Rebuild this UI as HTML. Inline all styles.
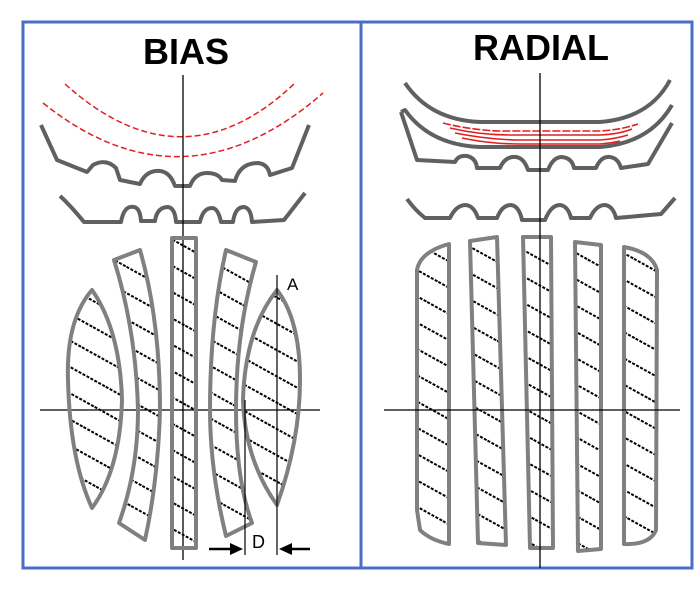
<!DOCTYPE html>
<html><head><style>
html,body{margin:0;padding:0;background:#fff;}
svg{display:block;}
text{font-family:"Liberation Sans",sans-serif;}
</style></head><body>
<svg width="700" height="592" viewBox="0 0 700 592" xmlns="http://www.w3.org/2000/svg">
<defs>
<pattern id="h" patternUnits="userSpaceOnUse" width="40" height="23" patternTransform="rotate(29)">
<line x1="0" y1="11" x2="40" y2="11" stroke="#000" stroke-width="2" stroke-dasharray="3 1.5"/>
</pattern>
</defs>
<rect x="0" y="0" width="700" height="592" fill="#fff"/>
<rect x="23" y="22" width="338" height="546" fill="none" stroke="#4a6fc4" stroke-width="3"/>
<rect x="361" y="22" width="331" height="546" fill="none" stroke="#4a6fc4" stroke-width="3"/>
<text x="186" y="64" font-size="36" font-weight="bold" text-anchor="middle">BIAS</text>
<text x="541" y="60" font-size="36" font-weight="bold" text-anchor="middle">RADIAL</text>

<g fill="none" stroke="#e02020" stroke-width="1.5" stroke-dasharray="6 3">
<path d="M65 84 Q183 190 295 83"/>
<path d="M43 103 Q183 215 323 93"/>
</g>
<g fill="none" stroke="#606060" stroke-width="4" stroke-linejoin="round">
<path d="M41 125 L57 160 L87 172 L93 165 Q106 158 116 168 L120 180 L140 184 Q146 170 160 171 Q170 172 175 186 L190 186 Q195 173 207 173 Q218 173 222 180 L235 181 Q240 163 258 163 Q268 164 270 175 L292 168 L309 125"/>
<path d="M60 196 Q70 205 84 222 L121 222 Q124 205 134 207 Q140 208 141 221 L155 221 Q157 207 168 207 Q175 208 176 222 L200 222 Q203 208 212 208 Q218 208 221 222 L233 222 Q235 207 244 207 Q251 208 252 222 L284 220 L305 193"/>
</g>
<line x1="183" y1="75" x2="183" y2="560" stroke="#000" stroke-width="1.3"/>
<line x1="40" y1="410" x2="320" y2="410" stroke="#000" stroke-width="1.3"/>

<g stroke="#808080" stroke-width="4" fill="url(#h)" stroke-linejoin="round">
<path d="M92 290 Q66 320 68 380 Q70 460 92 508 Q120 470 122 400 Q120 330 92 290 Z"/>
<path d="M114 260 L140 250 Q160 320 160 410 Q158 480 145 540 L119 523 Q138 470 138 410 Q136 330 114 260 Z"/>
<rect x="172" y="238" width="24" height="310"/>
<path d="M226 250 L256 262 Q236 330 236 410 Q236 480 252 523 L226 536 Q210 470 210 410 Q210 320 226 250 Z"/>
<path d="M277 290 Q300 320 300 380 Q300 440 277 505 Q245 460 243 400 Q245 330 277 290 Z"/>
</g>
<line x1="277" y1="275" x2="277" y2="555" stroke="#000" stroke-width="1.2"/>
<line x1="245" y1="400" x2="245" y2="555" stroke="#000" stroke-width="1.2"/>
<text x="287" y="290" font-size="17">A</text>
<text x="252" y="548" font-size="18" font-family="Liberation Serif">D</text>
<g stroke="#000" stroke-width="2.5">
<line x1="209" y1="549" x2="232" y2="549"/>
<line x1="286" y1="549" x2="310" y2="549"/>
</g>
<polygon points="243,549 230,543 230,555" fill="#000"/>
<polygon points="279,549 292,543 292,555" fill="#000"/>

<g fill="none" stroke="#606060" stroke-width="4" stroke-linejoin="round">
<path d="M405 83 Q430 120 480 122 L600 122 Q650 118 670 80"/>
<path d="M401 112 L405 110 Q430 145 480 147 L600 147 Q650 143 672 105"/>
<path d="M401 112 L417 160 L455 162 Q458 155 467 156 Q476 158 477 168 L500 168 Q505 156 516 157 Q524 158 528 170 L548 170 Q553 157 562 157 Q572 158 574 168 L596 168 Q601 156 610 157 Q618 158 621 168 L648 164 L672 123"/>
<path d="M407 199 Q415 210 425 218 L450 218 Q456 205 466 205 Q474 206 478 218 L497 218 Q502 205 511 205 Q519 206 522 220 L545 220 Q551 205 560 205 Q568 206 571 218 L590 218 Q596 205 605 205 Q613 206 616 218 L661 214 L675 198"/>
</g>
<g fill="none" stroke="#e02020" stroke-width="1.6">
<path d="M443 123 Q470 130 500 131 L600 131 Q620 130 638 124" stroke-dasharray="8 2"/>
<path d="M450 128 Q480 135 510 135 L600 135 Q620 134 632 129"/>
<path d="M455 133 Q485 139 515 140 L600 140 Q615 139 628 135"/>
<path d="M462 138 Q490 144 520 144 L600 144 Q612 143 620 141"/>
</g>

<g stroke="#808080" stroke-width="4" fill="url(#h)" stroke-linejoin="round">
<path d="M449 244 L449 544 Q430 540 420 530 L417 510 L417 270 Q420 252 449 244 Z"/>
<path d="M470 241 L497 237 L506 545 L478 543 Z"/>
<path d="M523 237 L551 237 L553 548 L530 548 Z"/>
<path d="M575 242 L601 245 L601 549 L578 551 Z"/>
<path d="M624 247 Q652 252 657 270 L656 530 Q650 545 624 544 Z"/>
</g>
<line x1="540" y1="73" x2="540" y2="568" stroke="#000" stroke-width="1.3"/>
<line x1="384" y1="410" x2="680" y2="410" stroke="#000" stroke-width="1.3"/>
</svg>
</body></html>
